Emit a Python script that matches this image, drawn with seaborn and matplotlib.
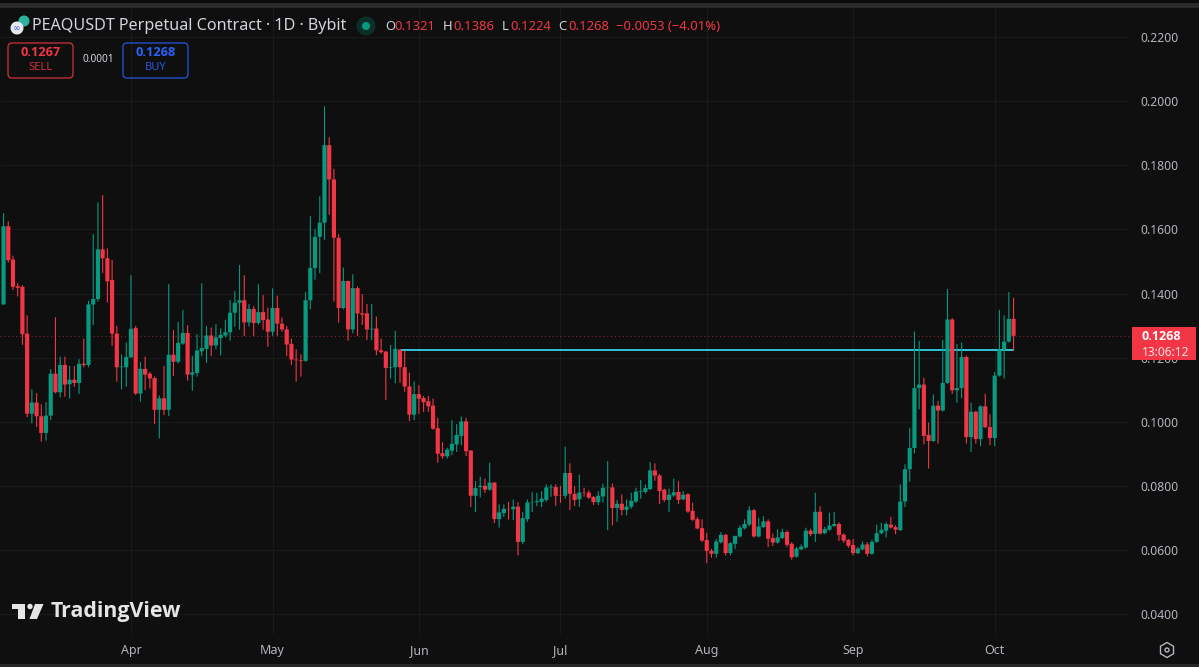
import pandas as pd
import seaborn as sns
import matplotlib.pyplot as plt
from matplotlib.patches import Circle, FancyBboxPatch, Polygon, Rectangle, RegularPolygon

# daily candles
open_ = [.1366,.161,.1506,.1423,.1421,.1275,.1025,.106,.1017,.0965,
         .1019,.115,.1092,.1177,.1117,.1131,.1121,.1181,.1177,.1366,
         .1383,.1538,.151,.1442,.1275,.117,.117,.1201,.1292,.1088,
         .1165,.115,.1136,.1037,.1073,.1037,.1209,.1187,.1244,.1277,
         .1147,.1152,.122,.1227,.1269,.1238,.1261,.1269,.1279,.134,
         .1371,.1379,.131,.1352,.1308,.1342,.1319,.1281,.1355,.1306,
         .1288,.1243,.1194,.1192,.119,.1379,.148,.1577,.1621,.1863,
         .1756,.1574,.1355,.1439,.1288,.1417,.1338,.1338,.1288,.1291,
         .1223,.1219,.1168,.117,.1225,.117,.111,.1022,.1086,.1074,
         .1064,.105,.098,.0902,.0892,.091,.0929,.0956,.1001,.091,
         .0769,.0796,.08,.0788,.081,.0696,.0715,.0728,.0727,.0735,
         .0625,.0696,.0748,.0749,.075,.0756,.0795,.0796,.0771,.0769,
         .084,.0775,.0758,.0779,.0779,.0765,.0749,.0767,.0794,.0795,
         .0731,.0744,.0725,.0735,.0751,.0781,.0781,.079,.0848,.0832,
         .0788,.0756,.077,.0781,.0758,.0774,.0722,.0696,.0668,.0631,
         .0597,.0588,.0624,.0647,.059,.0619,.0642,.0667,.0679,.0724,
         .0642,.0671,.0689,.0637,.0623,.0637,.0656,.0619,.0579,.0602,
         .0608,.066,.065,.0719,.0652,.0663,.0675,.0681,.0648,.0631,
         .0615,.059,.0602,.0617,.0588,.0625,.0652,.066,.0679,.0671,
         .0662,.0751,.0852,.0918,.1105,.1116,.0959,.094,.105,.1035,
         .1121,.1319,.1098,.1105,.1202,.0952,.1031,.0946,.1048,.0983,
         .0949,.1144,.1225,.125,.1321]
high = [.165,.1624,.1517,.1431,.1425,.1331,.11,.1088,.1053,.106,
        .1163,.1325,.1202,.1202,.1173,.1173,.1194,.1258,.1376,.1584,
        .1683,.1706,.154,.1504,.1298,.1209,.1246,.1456,.1298,.1185,
        .1202,.1154,.114,.1081,.1173,.1428,.1285,.131,.1348,.13,
        .1204,.1272,.1431,.1298,.1293,.1303,.129,.1317,.1379,.1406,
        .1488,.1456,.1366,.136,.1428,.1394,.1355,.1415,.1392,.1324,
        .1298,.1258,.1225,.1209,.1404,.164,.16,.1702,.1983,.1886,
        .1788,.1584,.148,.1439,.1459,.1421,.1397,.1366,.1366,.1327,
        .1258,.1219,.1238,.1282,.1225,.122,.1152,.1124,.1113,.1079,
        .1079,.1071,.1011,.0935,.0918,.1004,.0991,.1015,.1011,.091,
        .0814,.0827,.0821,.0871,.081,.0741,.0741,.0749,.0756,.0748,
        .0717,.0756,.0779,.0777,.0782,.0803,.0803,.0803,.0799,.0921,
        .0869,.0798,.0834,.0793,.0785,.0767,.0782,.0806,.0876,.0806,
        .0755,.0772,.0756,.0777,.0793,.0817,.0803,.0873,.0869,.0836,
        .079,.079,.0821,.0814,.0782,.0775,.0746,.0702,.0694,.0652,
        .0602,.0633,.0654,.0649,.0623,.0622,.0675,.0694,.0735,.0727,
        .0699,.0704,.0694,.065,.0663,.0665,.066,.0623,.0608,.0616,
        .0668,.0665,.0777,.0735,.0671,.0715,.0717,.0685,.065,.0633,
        .0633,.0608,.0625,.0623,.0631,.0678,.0683,.0685,.0702,.0675,
        .0803,.0866,.098,.128,.1251,.1136,.0996,.1084,.1064,.1254,
        .1413,.1322,.1241,.1246,.1205,.1058,.1033,.105,.1086,.1022,
        .1154,.1348,.1331,.1404,.1386]
low = [.1366,.1498,.1412,.1392,.1241,.1015,.0996,.0985,.0939,.0942,
       .1006,.109,.1077,.1079,.1074,.111,.1088,.1171,.1171,.1303,
       .1376,.1465,.1373,.1238,.1126,.1102,.111,.12,.1085,.1064,
       .11,.1105,.0994,.0949,.1022,.1019,.1144,.1183,.1241,.1129,
       .1098,.1142,.1206,.1185,.1206,.1227,.1208,.1265,.1254,.1298,
       .1288,.1269,.1298,.1269,.1304,.1288,.1235,.1269,.1269,.1282,
       .1206,.1178,.1126,.1142,.1188,.1352,.1444,.1465,.1569,.1647,
       .1376,.131,.1352,.1254,.1277,.1269,.1303,.1256,.1256,.1209,
       .1213,.1069,.1136,.1121,.1123,.1095,.1003,.1006,.1025,.1032,
       .1032,.0976,.0873,.0886,.0886,.0897,.0907,.0928,.0894,.0735,
       .072,.0765,.0779,.0786,.0685,.0671,.0704,.0696,.0694,.0584,
       .0619,.0689,.072,.0738,.0735,.0752,.0767,.0738,.0748,.0761,
       .0725,.0738,.0735,.0767,.0761,.0741,.0741,.0749,.0663,.0678,
       .0689,.0709,.0709,.073,.0748,.0761,.0777,.0788,.0817,.0744,
       .0751,.072,.0767,.0744,.0756,.0717,.0692,.0665,.0626,.056,
       .0577,.0577,.0621,.0584,.0584,.0604,.064,.0665,.0675,.064,
       .064,.0669,.061,.0613,.0621,.0635,.061,.0571,.0577,.06,
       .0605,.0644,.0626,.0649,.065,.0661,.0673,.0629,.0623,.0608,
       .0584,.0588,.06,.0581,.0586,.0623,.065,.064,.0668,.065,
       .066,.0735,.0814,.0902,.104,.0931,.0855,.0938,.0933,.1033,
       .1119,.1088,.106,.1074,.0933,.0907,.0933,.0925,.0981,.0928,
       .0925,.1142,.1136,.1248,.1224]
close = [.161,.1504,.1421,.1418,.1273,.1025,.106,.1017,.0965,.1019,
         .115,.1092,.1177,.1116,.1131,.1121,.1181,.1177,.1366,.1383,
         .1538,.151,.1438,.1275,.117,.1172,.1202,.129,.1088,.1165,
         .1147,.1135,.1037,.1073,.1037,.1209,.1187,.1246,.1277,.1147,
         .1154,.1222,.123,.1269,.1238,.1263,.1271,.1279,.134,.1371,
         .1379,.131,.1352,.1308,.1342,.1317,.1281,.1355,.1306,.1288,
         .1241,.1194,.1192,.119,.1379,.148,.1577,.1621,.1863,.1756,
         .1574,.1355,.1439,.1288,.1417,.1338,.1334,.1288,.129,.1223,
         .1217,.1168,.117,.1227,.117,.111,.1022,.1086,.1072,.1061,
         .1048,.0978,.09,.0892,.0913,.0931,.0959,.1001,.0908,.0769,
         .0793,.08,.0788,.081,.0696,.0717,.0728,.0727,.0735,.0625,
         .0699,.0748,.0749,.0752,.076,.0795,.0797,.0769,.077,.084,
         .0775,.0756,.0779,.0778,.0763,.0749,.0769,.0794,.0795,.0731,
         .0744,.0725,.0735,.0753,.0782,.0783,.0793,.0848,.0832,.0784,
         .0756,.0772,.078,.0756,.0772,.072,.0694,.0667,.0629,.0597,
         .0588,.0626,.0647,.059,.0621,.0644,.0669,.0681,.0724,.0642,
         .0673,.0689,.0635,.0623,.0639,.0656,.0616,.0577,.0604,.061,
         .066,.0649,.0719,.0651,.0665,.0676,.0681,.0647,.0629,.0613,
         .059,.0604,.0617,.0588,.0625,.0652,.0663,.0681,.067,.0663,
         .0751,.0852,.0918,.1105,.1116,.0956,.094,.105,.1035,.1121,
         .1319,.1098,.1105,.1202,.0952,.1031,.0946,.1048,.0983,.0949,
         .1144,.1225,.125,.1321,.1268]

first_day = '2025-03-05'
month_starts = ['2025-04-01', '2025-05-01', '2025-06-01', '2025-07-01',
                '2025-08-01', '2025-09-01', '2025-10-01']
month_labels = ['Apr', 'May', 'Jun', 'Jul', 'Aug', 'Sep', 'Oct']
price_ticks = [0.04, 0.06, 0.08, 0.10, 0.12, 0.14, 0.16, 0.18, 0.20, 0.22]
last_price = 0.1268
level_price = 0.1224
level_start = '2025-05-28'
level_end = '2025-10-05'

BG = '#0f0f0f'
GRID = '#1a1a1a'
UP = '#089981'
DOWN = '#f23645'
TXT = '#b2b5be'
TITLE = '#d1d4dc'
BOLD = ['Open Sans', 'DejaVu Sans']

sns.set_theme(style='dark', rc={'axes.facecolor': BG, 'figure.facecolor': BG})
plt.rcParams['font.family'] = ['Noto Sans', 'DejaVu Sans']

df = pd.DataFrame({'date': pd.date_range(first_day, periods=len(close)),
                   'open': open_, 'high': high, 'low': low, 'close': close})
df['dir'] = ['up' if c >= o else 'down' for o, c in zip(open_, close)]
colors = {'up': UP, 'down': DOWN}

wicks = df.melt(id_vars=['date', 'dir'], value_vars=['high', 'low'], value_name='price')
bodies = df.melt(id_vars=['date', 'dir'], value_vars=['open', 'close'], value_name='price')

fig = plt.figure(figsize=(11.99, 6.67), dpi=100)
W, H = 1199, 667
# plot area runs 0-1129 px across, 8-634 px down
ax = fig.add_axes([0, 1 - 634 / H, 1129 / W, 626 / H])

for d in month_starts:
    ax.axvline(pd.Timestamp(d), color=GRID, lw=0.8, zorder=1)
for p in price_ticks:
    ax.axhline(p, color=GRID, lw=0.8, zorder=1)

ax.axhline(last_price, color=DOWN, lw=0.8, ls=(0, (1, 2.5)), alpha=0.5, zorder=2)

level = pd.DataFrame({'date': pd.to_datetime([level_start, level_end]),
                      'price': [level_price, level_price]})
sns.lineplot(data=level, x='date', y='price', color='#2fc4d6', linewidth=1.4, ax=ax, zorder=3,
             solid_capstyle='butt')

sns.lineplot(data=wicks, x='date', y='price', hue='dir', units='date', estimator=None,
             palette=colors, linewidth=0.8, legend=False, ax=ax, zorder=4, snap=False)
sns.lineplot(data=bodies, x='date', y='price', hue='dir', units='date', estimator=None,
             palette=colors, linewidth=3.0, legend=False, ax=ax, zorder=5,
             solid_capstyle='butt', snap=False)

ax.set_xlim(pd.Timestamp(first_day) - pd.Timedelta(hours=18),
            pd.Timestamp(first_day) + pd.Timedelta(hours=5723))
ax.set_ylim(0.03376, 0.2291)
ax.set_xticks(pd.to_datetime(month_starts))
ax.set_xticklabels(month_labels, color=TXT, fontsize=9, fontweight='semibold')
ax.set_yticks(price_ticks)
ax.set_yticklabels(['%.4f' % p for p in price_ticks], color=TXT, fontsize=8.7)
ax.yaxis.tick_right()
ax.tick_params(axis='both', length=0)
ax.tick_params(axis='x', pad=7)
ax.tick_params(axis='y', pad=8)
ax.set_xlabel('')
ax.set_ylabel('')
ax.grid(False)
sns.despine(ax=ax, left=True, right=True, top=True, bottom=True)

# chart chrome, in pixel coordinates
ui = fig.add_axes([0, 0, 1, 1], zorder=10)
ui.set_xlim(0, W)
ui.set_ylim(H, 0)
ui.axis('off')
ui.patch.set_alpha(0)

ui.add_patch(Rectangle((0, 0), W, 3, color='#0a0a0a', lw=0))
ui.add_patch(Rectangle((0, 3), W, 5, color='#2a2a2a', lw=0))
ui.add_patch(Rectangle((0, 664), W, 3, color='#262626', lw=0))

# header
ui.add_patch(Circle((24, 21), 5.5, color='#2bb5a0', lw=0))
ui.add_patch(Circle((17, 28), 6.5, color='#e6e9f2', lw=0))
ui.text(17, 28, '∞', color='#4a5fd0', fontsize=6.5, ha='center', va='center')
ui.text(32, 26.5, 'PEAQUSDT Perpetual Contract · 1D · Bybit', color=TITLE, fontsize=11.6,
        va='center', ha='left')
ui.add_patch(Circle((366, 26), 9.5, color='#0d2f29', lw=0))
ui.add_patch(Circle((366, 26), 4, color=UP, lw=0))

ohlc = [(385, 'O', TITLE), (394, '0.1321', DOWN), (443, 'H', TITLE), (453, '0.1386', DOWN),
        (502, 'L', TITLE), (510, '0.1224', DOWN), (558, 'C', TITLE), (568, '0.1268', DOWN),
        (616, '−0.0053 (−4.01%)', DOWN)]
for x, s, c in ohlc:
    ui.text(x, 26, s, color=c, fontsize=9.4, va='center', ha='left')

# sell / buy
for x0, col, price, name in [(8, DOWN, '0.1267', 'SELL'), (123, '#2962ff', '0.1268', 'BUY')]:
    ui.add_patch(FancyBboxPatch((x0 + 3, 46), 59, 29, boxstyle='round,pad=3,rounding_size=4',
                                fc='none', ec=col, lw=0.9, alpha=0.85))
    ui.text(x0 + 32.5, 53, price, color=col, fontsize=9.2, fontweight='bold', family=BOLD,
            ha='center', va='center')
    ui.text(x0 + 32.5, 68, name, color=col, fontsize=8, ha='center', va='center', alpha=0.85)
ui.text(98, 60, '0.0001', color=TITLE, fontsize=7.3, ha='center', va='center')

# price tag
ui.add_patch(Rectangle((1132, 327), 64, 33, color=DOWN, lw=0))
ui.text(1142, 336.5, '0.1268', color='white', fontsize=9, fontweight='bold', family=BOLD, va='center')
ui.text(1142, 352, '13:06:12', color='#ffe3e6', fontsize=8.6, va='center')

# logo
logo = '#e6e6e6'
ui.add_patch(Polygon([(12, 604), (25, 604), (25, 619), (18, 619), (18, 609), (12, 609)], color=logo, lw=0))
ui.add_patch(Circle((30, 606.5), 2.7, color=logo, lw=0))
ui.add_patch(Polygon([(35, 604), (43.5, 604), (37, 619), (29.5, 619)], color=logo, lw=0))
ui.text(51, 611.5, 'TradingView', color=logo, fontsize=15.4, fontweight='bold',
        family=['Open Sans', 'DejaVu Sans'], va='center', ha='left')

# settings
ui.add_patch(RegularPolygon((1167, 650), 6, radius=7.5, fc='none', ec=TXT, lw=1))
ui.add_patch(Circle((1167, 650), 2, fc='none', ec=TXT, lw=1))

fig.savefig('out.png', dpi=100, facecolor=BG)
